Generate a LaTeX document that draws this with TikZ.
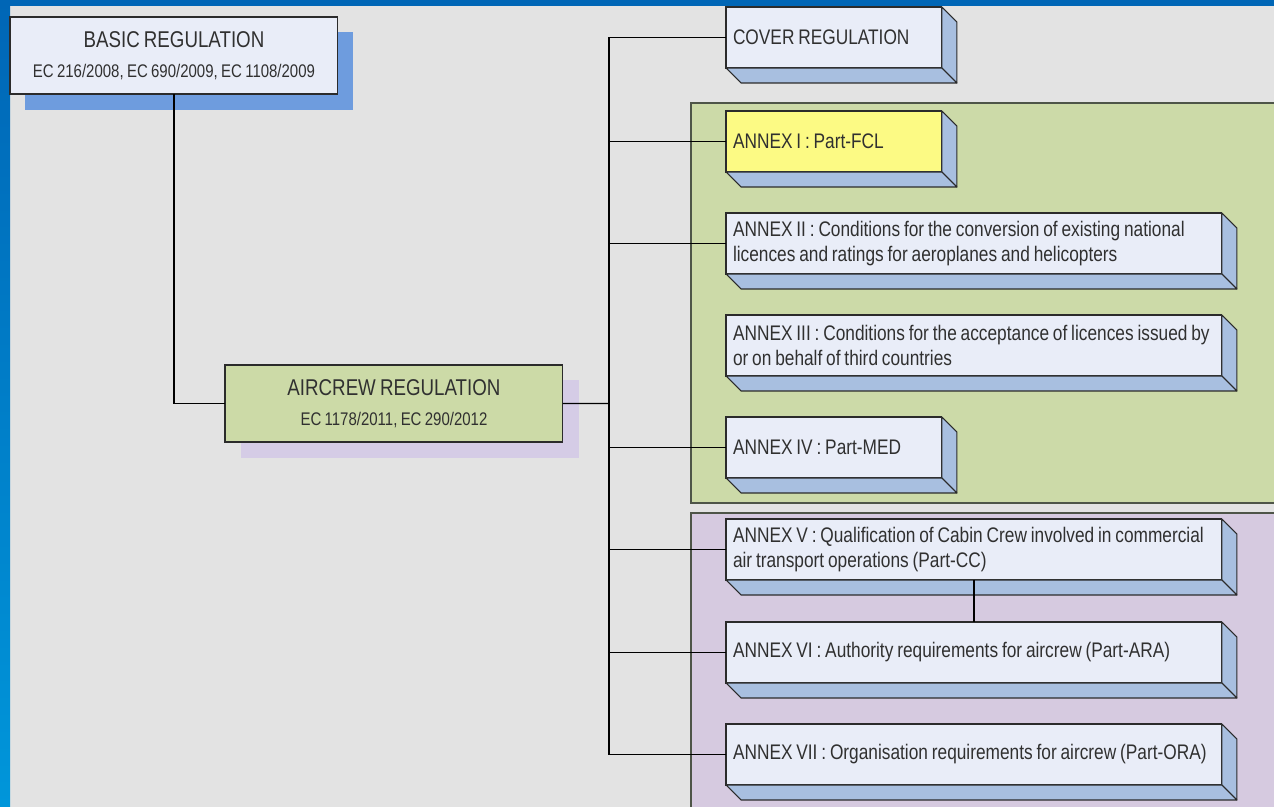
\documentclass[tikz,border=0pt]{standalone}
\usepackage{fontspec}
\setmainfont{Liberation Sans}[FakeStretch=0.82, WordSpace=0.8]

\definecolor{pagegray}{HTML}{E3E3E3}
\definecolor{frameblue}{HTML}{0066B6}
\definecolor{framelight}{HTML}{0096DA}
\definecolor{boxfront}{HTML}{E9EDF8}
\definecolor{boxside}{HTML}{A8BFE0}
\definecolor{boxline}{HTML}{2B2B2B}
\definecolor{txt}{HTML}{303030}
\definecolor{shadeblue}{HTML}{6E9CDE}
\definecolor{shadelilac}{HTML}{D5CCE6}
\definecolor{aircrewgreen}{HTML}{CCDAA7}
\definecolor{panelgreen}{HTML}{CCDAA8}
\definecolor{panellilac}{HTML}{D6CAE0}
\definecolor{panelline}{HTML}{4E5548}
\definecolor{fclyellow}{HTML}{FCFA84}

\tikzset{
  front/.style={draw=boxline, line width=0.6pt, fill=boxfront, anchor=north west,
    outer sep=0pt, inner xsep=0.14cm, align=flush left, text=txt,
    minimum height=1.22cm, font=\fontsize{12}{14.7}\selectfont},
  narrowbox/.style={front, text width=4.04cm},
  widebox/.style={front, text width=9.64cm},
  regbox/.style={draw=boxline, line width=0.6pt, anchor=north west, outer sep=0pt,
    align=center, text=txt, minimum height=1.54cm, font=\fontsize{13}{15}\selectfont},
  side/.style={fill=boxside, draw=boxline, line width=0.6pt, line join=round},
  panel/.style={draw=panelline, line width=0.8pt},
  link/.style={draw=black, line width=0.8pt}
}

% right and bottom faces of a raised box
\newcommand{\drawbevel}[1]{%
  \filldraw[side] (#1.north east) -- ++(15,15) -- ([shift={(15,15)}]#1.south east)
    -- (#1.south east) -- cycle;
  \filldraw[side] (#1.south west) -- ++(15,15) -- ([shift={(15,15)}]#1.south east)
    -- (#1.south east) -- cycle;
}

\begin{document}
\begin{tikzpicture}[x=0.02cm, y=-0.02cm]
    \useasboundingbox (0,0) rectangle (1274,807);

    % page and frame
    \fill[pagegray] (0,0) rectangle (1274,807);
    \fill[frameblue] (0,0) rectangle (1274,6);
    \shade[top color=frameblue, bottom color=framelight] (0,0) rectangle (10,807);

    % coloured groups of annexes
    \filldraw[panel, fill=panelgreen] (691,103) rectangle (1280,503);
    \filldraw[panel, fill=panellilac] (691,513) rectangle (1280,815);

    % shadows
    \fill[shadeblue] (25,32) rectangle (353,110);
    \fill[shadelilac] (241,380) rectangle (579,458);

    \node[regbox, fill=boxfront, minimum width=6.56cm] (basic) at (10,17)
        {BASIC REGULATION\\[2pt]\fontsize{10.4}{12}\selectfont EC 216/2008, EC 690/2009, EC 1108/2009};
    \node[regbox, fill=aircrewgreen, minimum width=6.76cm] (air) at (225,365)
        {AIRCREW REGULATION\\[2pt]\fontsize{10.4}{12}\selectfont EC 1178/2011, EC 290/2012};

    \coordinate (jn) at (609,403.5);

    \node[narrowbox] (cover) at (726,7) {COVER REGULATION};
    \node[narrowbox, fill=fclyellow] (a1) at (726,111) {ANNEX I : Part-FCL};
    \node[widebox] (a2) at (726,213)
        {\mbox{ANNEX II : Conditions for the conversion of existing national}\\licences and ratings for aeroplanes and helicopters};
    \node[widebox] (a3) at (726,315)
        {\mbox{ANNEX III : Conditions for the acceptance of licences issued by}\\or on behalf of third countries};
    \node[narrowbox] (a4) at (726,417) {ANNEX IV : Part-MED};
    \node[widebox] (a5) at (726,519)
        {\mbox{ANNEX V : Qualification of Cabin Crew involved in commercial}\\air transport operations (Part-CC)};
    \node[widebox] (a6) at (726,622) {\mbox{ANNEX VI : Authority requirements for aircrew (Part-ARA)}};
    \node[widebox] (a7) at (726,724) {\mbox{ANNEX VII : Organisation requirements for aircrew (Part-ORA)}};

    \drawbevel{cover}
    \drawbevel{a1}
    \drawbevel{a2}
    \drawbevel{a3}
    \drawbevel{a4}
    \drawbevel{a5}
    \drawbevel{a6}
    \drawbevel{a7}

    % connectors
    \draw[link] (basic.south) |- (air.west);
    \draw[link] (air.east) -- (jn);
    \draw[link] (cover.west) -| (jn);
    \draw[link] (a1.west) -| (jn);
    \draw[link] (a2.west) -| (jn);
    \draw[link] (a4.west) -| (jn);
    \draw[link] (a5.west) -| (jn);
    \draw[link] (a6.west) -| (jn);
    \draw[link] (a7.west) -| (jn);
    \draw[link] (a5.south) -- (a6.north);
\end{tikzpicture}
\end{document}
